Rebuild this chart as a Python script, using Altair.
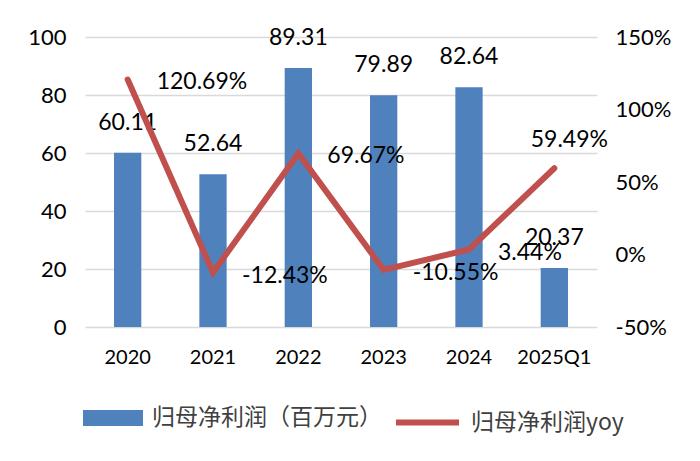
import altair as alt
import pandas as pd

categories = ["2020", "2021", "2022", "2023", "2024", "2025Q1"]
profit = [60.11, 52.64, 89.31, 79.89, 82.64, 20.37]
yoy = [120.69, -12.43, 69.67, -10.55, 3.44, 59.49]
bar_name = "归母净利润（百万元）"
line_name = "归母净利润yoy"
left_ticks = [0, 20, 40, 60, 80, 100]
right_ticks = [-50, 0, 50, 100, 150]

df = pd.DataFrame({"cat": categories, "profit": profit, "yoy": yoy})
df["bar_series"] = bar_name
df["line_series"] = line_name
df["profit_label"] = [f"{v:.2f}" for v in profit]
df["yoy_label"] = [f"{v:.2f}%" for v in yoy]

FONT = "Lato"
CJK = "Noto Sans CJK SC"
BLUE = "#4F81BD"
RED = "#C0504D"

base = alt.Chart(df)

x = alt.X(
    "cat:N", sort=categories, title=None,
    scale=alt.Scale(paddingInner=0.68, paddingOuter=0.34),
    axis=alt.Axis(labelAngle=0, labelFontSize=20, labelPadding=20, domain=False,
                  ticks=False, grid=False, labelFont=FONT, labelColor="#000000",
                  labelFontWeight="normal"),
)
yl = alt.Y(
    "profit:Q", title=None,
    scale=alt.Scale(domain=[0, 100], nice=False),
    axis=alt.Axis(orient="left", values=left_ticks, domain=False, ticks=False,
                  labelPadding=19, labelFontSize=22, labelFont=FONT, labelColor="#000000",
                  gridColor="#d9d9d9", gridWidth=1.5),
)
yr = alt.Y(
    "yoy:Q", title=None,
    scale=alt.Scale(domain=[-50, 150], nice=False),
    axis=alt.Axis(orient="right", values=right_ticks, labelExpr="datum.value + '%'",
                  domain=False, ticks=False, grid=False, labelPadding=18,
                  labelFontSize=22, labelFont=FONT, labelColor="#000000"),
)

bars = base.mark_bar().encode(
    x=x, y=yl,
    fill=alt.Fill("bar_series:N", scale=alt.Scale(range=[BLUE]),
                  legend=alt.Legend(title=None, orient="none", legendX=-2, legendY=351,
                                    symbolType="M-1,-0.27H1V0.27H-1Z", symbolSize=3600,
                                    symbolStrokeWidth=0, labelFontSize=23, labelFont=CJK,
                                    labelColor="#404040", labelOffset=9, labelLimit=400)),
)
bar_text = base.mark_text(dy=-30, fontSize=23, font=FONT, color="#000000",
                          baseline="middle").encode(x=x, y=yl, text="profit_label:N")

line = base.mark_line(strokeWidth=6, strokeCap="round").encode(
    x=x, y=yr,
    stroke=alt.Stroke("line_series:N", scale=alt.Scale(range=[RED]),
                      legend=alt.Legend(title=None, orient="none", legendX=308, legendY=351,
                                        symbolType="stroke", symbolSize=3969,
                                        symbolStrokeWidth=6, labelFontSize=23, labelFont=CJK,
                                        labelColor="#404040", labelOffset=9, labelLimit=400)),
)
line_text1 = base.transform_filter(alt.datum.cat != "2025Q1").mark_text(
    align="left", dx=29, dy=3, fontSize=23, font=FONT, color="#000000", baseline="middle"
).encode(x=x, y=yr, text="yoy_label:N")
line_text2 = base.transform_filter(alt.datum.cat == "2025Q1").mark_text(
    align="center", dx=15, dy=-28, fontSize=23, font=FONT, color="#000000", baseline="middle"
).encode(x=x, y=yr, text="yoy_label:N")

left = alt.layer(bars, bar_text)
right = alt.layer(line, line_text1, line_text2)

chart = alt.layer(left, right).resolve_scale(y="independent").properties(
    width=512, height=290,
    padding={"left": 77, "top": 29, "right": 95, "bottom": 126},
    autosize=alt.AutoSizeParams(type="none"),
    background="white",
).configure_view(stroke=None)

chart.save("out.html", embed_options={"renderer": "svg", "actions": False})
